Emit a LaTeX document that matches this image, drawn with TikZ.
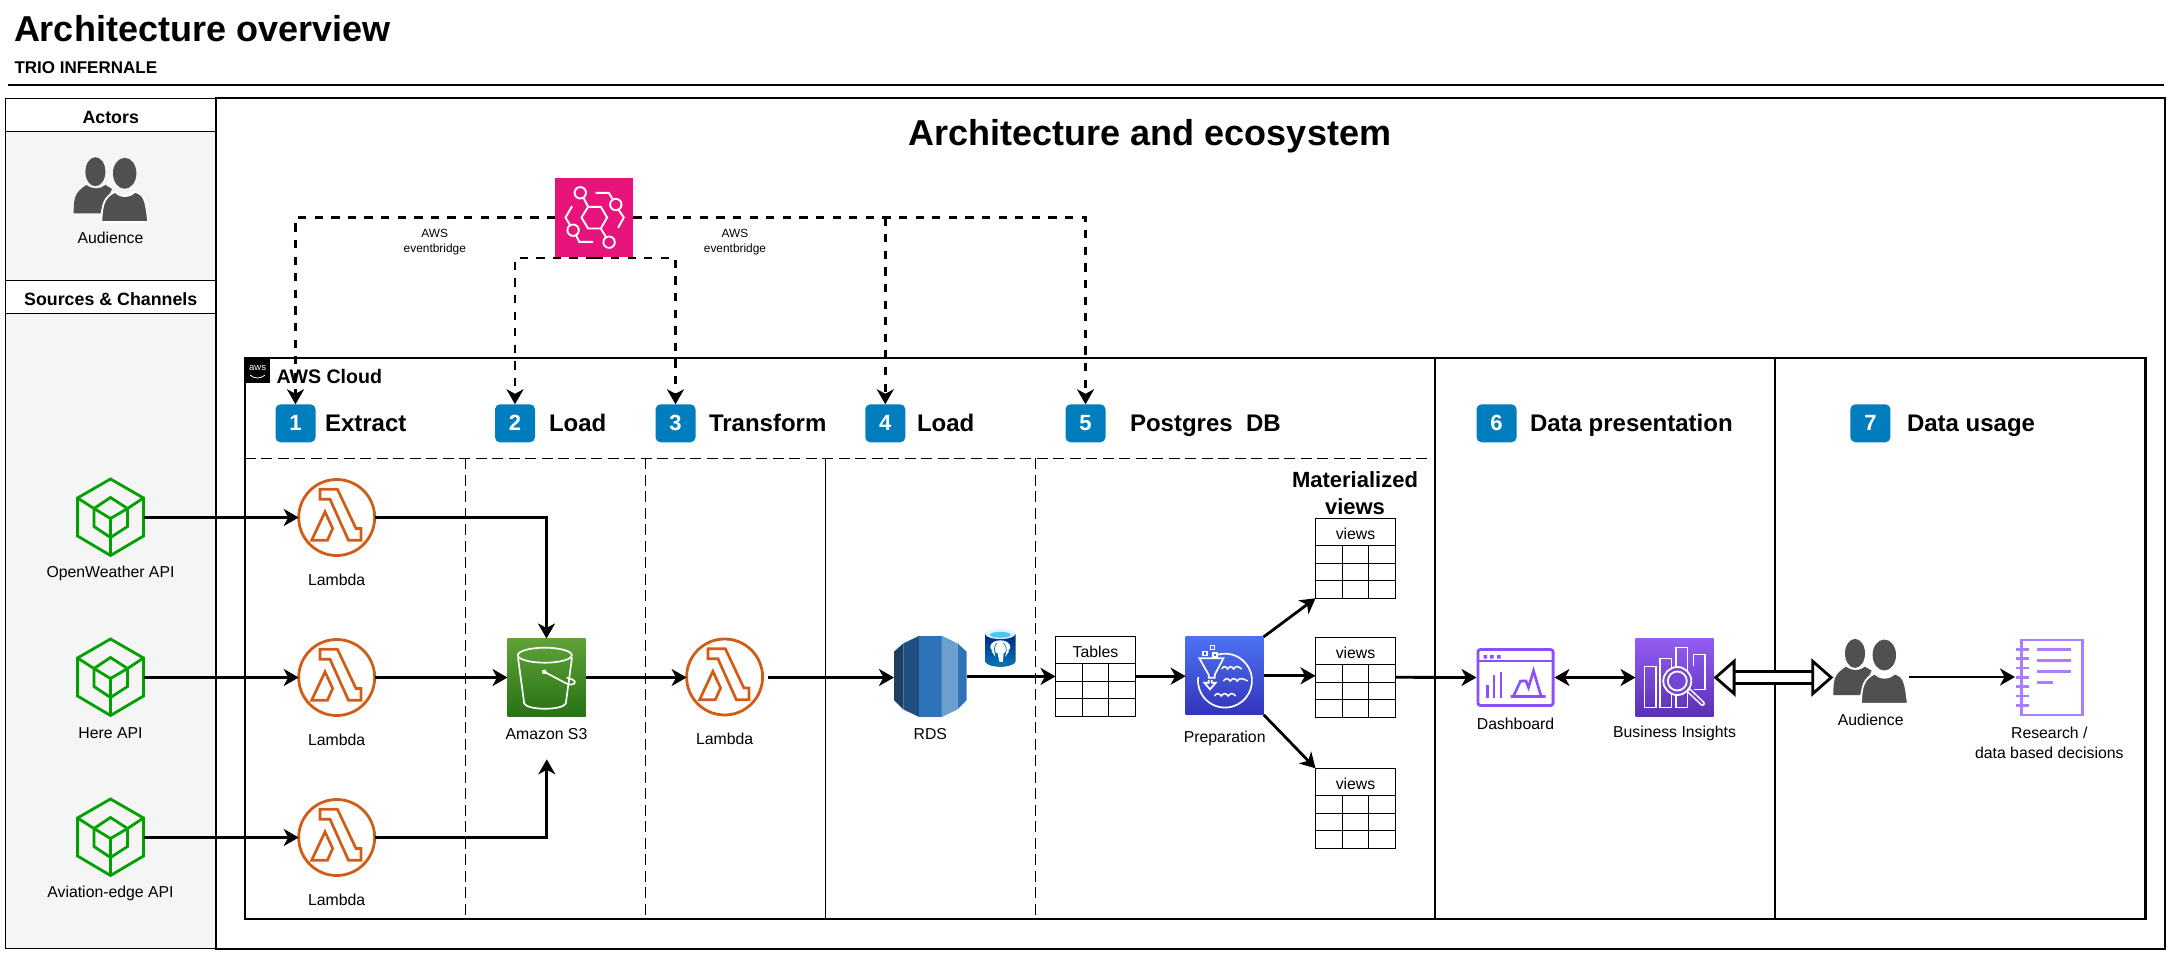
\documentclass[tikz,border=0pt]{standalone}
\usepackage{fontspec}
\setmainfont{Liberation Sans}
\usetikzlibrary{positioning, shapes.geometric, arrows.meta}
\definecolor{panelgray}{HTML}{F5F5F5}
\definecolor{stepblue}{HTML}{007DBC}
\definecolor{apigreen}{HTML}{00A000}
\definecolor{lambdaorange}{HTML}{D05C17}
\definecolor{peoplegray}{HTML}{505050}
\definecolor{ebpink}{HTML}{E7157B}
\definecolor{dashpurple}{HTML}{8C4FFF}
\definecolor{notepurple}{HTML}{AD7DFF}
\definecolor{rdsdark}{HTML}{1A3F60}
\definecolor{rdsmid}{HTML}{205081}
\definecolor{rdsblue}{HTML}{2E73B8}
\definecolor{rdslight}{HTML}{6C9ECF}
\definecolor{insighttop}{HTML}{945DF2}
\definecolor{insightlow}{HTML}{5A30B5}
\definecolor{insightmid}{HTML}{7545D4}
\definecolor{stop}{HTML}{60A337}
\definecolor{slow}{HTML}{277116}
\definecolor{preptop}{HTML}{4D72F3}
\definecolor{preplow}{HTML}{3334B9}

\begin{document}
\begin{tikzpicture}[
    x=1pt, y=-1pt,
    every node/.style={inner sep=0pt, outer sep=0pt},
    framebox/.style={rectangle, draw, line width=1.8pt},
    lanebox/.style={rectangle, draw, line width=2.2pt},
    panelhead/.style={rectangle, draw, line width=1.3pt, fill=white, minimum width=210.5pt, minimum height=33pt, font=\fontsize{17.8}{21}\selectfont\bfseries},
    caption/.style={align=center, yshift=-1pt, font=\fontsize{15.8}{19.4}\selectfont},
    smallcaption/.style={align=center, yshift=-1pt, font=\fontsize{11.9}{15.4}\selectfont},
    stepnum/.style={rectangle, rounded corners=5pt, fill=stepblue, text=white, minimum width=40pt, minimum height=38pt, font=\fontsize{22}{24}\selectfont\bfseries},
    steptext/.style={anchor=base west, font=\fontsize{24}{28}\selectfont\bfseries},
    iconbox/.style={rectangle, minimum width=78pt, minimum height=78pt},
    lambdabox/.style={ellipse, draw=lambdaorange, line width=2.8pt, minimum width=76pt, minimum height=76pt},
    gridbox/.style={rectangle, draw, line width=1.2pt, minimum width=80pt, minimum height=80pt},
    flow/.style={line width=2.8pt, -{Stealth[length=15pt, width=17pt, inset=4.5pt]}},
    twoway/.style={line width=2.8pt, {Stealth[length=15pt, width=17pt, inset=4.5pt]}-{Stealth[length=15pt, width=17pt, inset=4.5pt]}},
    bus/.style={line width=2.8pt, dash pattern=on 8.3pt off 8.3pt, -{Stealth[length=15pt, width=17pt, inset=4.5pt]}},
    lanedash/.style={line width=1.2pt, dash pattern=on 11pt off 5.5pt},
    hollow/.style={line width=2.8pt, double=white, double distance=9pt, {Triangle[open, fill=white, length=22pt, width=38pt, line width=2.8pt]}-{Triangle[open, fill=white, length=22pt, width=38pt, line width=2.8pt]}},
    people/.pic={
        \fill[peoplegray] (-15.3,-17.8) ellipse [x radius=10, y radius=14.5];
        \fill[peoplegray] (-37,23.8) .. controls (-37,8) and (-36,3) .. (-24.3,-4.5) .. controls (-18,0) and (-11,0) .. (-5.3,-4.5) -- (1.3,-0.5) -- (-10.3,23.8) -- cycle;
        \fill[peoplegray] (14,-16.2) ellipse [x radius=11.7, y radius=15.5];
        \filldraw[peoplegray, draw=white, line width=1.8pt] (-9.3,32.6) .. controls (-9,14) and (-6,7) .. (4.7,2.2) .. controls (9,8) and (19,8) .. (24,2.2) .. controls (33,5) and (35,8) .. (37.5,32.6) -- cycle;
    },
    hexapi/.pic={
        \draw[apigreen, line width=2.8pt] (0,-38.5) -- (33,-19.5) -- (33,18.5) -- (0,38) -- (-33,18.5) -- (-33,-19.5) -- cycle;
        \draw[apigreen, line width=2.8pt] (0,-20) -- (17,-9) -- (17,9) -- (0,20) -- (-16.5,9) -- (-16.5,-9) -- cycle;
        \draw[apigreen, line width=2.8pt] (-16.5,-9) -- (0,1) -- (17,-9) (0,1) -- (0,38) (-33,-19.5) -- (-16.5,-9) (33,-19.5) -- (17,-9);
    },
    lambdaglyph/.pic={
        \draw[lambdaorange, line width=2.7pt] (-16.7,-28.3) -- (0.7,-28.3) -- (19.3,11) -- (24.3,11) -- (24.3,22.7) -- (11.7,22.7) -- (-6.7,-18.3) -- (-16.7,-18.3) -- cycle;
        \draw[lambdaorange, line width=2.7pt] (-25,22.7) -- (-11.7,-5.7) -- (-4,11) -- (-9.3,22.7) -- cycle;
    },
    bucket/.pic={
        \draw[white, line width=1.7pt] (-1.7,-22.3) ellipse [x radius=27, y radius=7.5];
        \draw[white, line width=1.7pt] (-28.5,-20) -- (-22.3,26) .. controls (-19,33) and (16,33) .. (19.3,26) -- (25.5,-20);
        \fill[white] (-2.3,-5.7) circle [radius=2.3];
        \draw[white, line width=1.7pt] (-2.3,-5.7) -- (20,6) .. controls (28,9.5) and (31,4) .. (26,2) .. controls (24,1) and (22,1) .. (20,0);
    },
    rdsglyph/.pic={
        \fill[rdsdark] (-36.3,-24.7) -- (-27,-33) -- (-27,33) -- (-36.3,23.7) -- cycle;
        \fill[rdsmid] (-27,-33) -- (-11,-40.7) -- (-11,40.7) -- (-27,33) -- cycle;
        \fill[rdsblue] (-11,-40.7) -- (11.3,-40.7) -- (11.3,40.7) -- (-11,40.7) -- cycle;
        \fill[rdslight] (11.3,-40.7) -- (27.3,-33) -- (27.3,33) -- (11.3,40.7) -- cycle;
        \fill[rdsblue] (27.3,-33) -- (36.3,-24.7) -- (36.3,23.7) -- (27.3,33) -- cycle;
    },
    pgcan/.pic={
        \fill[top color=blue!40!black!70!stepblue, bottom color=stepblue] (-15,-13.8) -- (-15,13.8) .. controls (-12,20.5) and (12,20.5) .. (15,13.8) -- (15,-13.8) -- cycle;
        \fill[cyan!12] (0,-13.8) ellipse [x radius=15, y radius=5];
        \fill[cyan!70!white] (0,-13) ellipse [x radius=10.5, y radius=3];
        \fill[white] (0,-1) ellipse [x radius=10, y radius=6.5];
        \fill[white] (-4,1) -- (4,1) -- (2.5,14) -- (-0.8,14) -- cycle;
        \fill[white] (-9,3) -- (-6,3) -- (-5,9) -- cycle;
        \fill[white] (9,3) -- (6,3) -- (5,9) -- cycle;
        \draw[stepblue, line width=0.7pt] (-3,-5) .. controls (-8,0) and (-6,6) .. (-3,7) (3,-5) .. controls (8,0) and (6,6) .. (3,7);
    },
    tablelines/.pic={
        \draw[line width=1.2pt] (-40,-13) -- (40,-13) (-40,5) -- (40,5) (-40,22) -- (40,22);
        \draw[line width=1.2pt] (-13,-13) -- (-13,40) (13,-13) -- (13,40);
    },
    funnel/.pic={
        \draw[white, line width=1.7pt] (0.3,4.8) ++(253:27) arc [start angle=253, end angle=548, radius=27];
        \draw[white, line width=1.7pt] (-25.3,-17.5) -- (-1.3,-17.5) -- (-10,-1) -- (-10,2) -- (-16,2) -- (-16,-1) -- cycle;
        \draw[white, line width=1.7pt] (-16,4) -- (-16,7) -- (-20.3,7) -- (-14.7,13.5) -- (-9,7) -- (-13,7) -- (-13,4);
        \draw[white, line width=1.3pt] (-21.7,-24.5) rectangle (-17.7,-20.5) (-14,-30.5) rectangle (-10,-26.5) (-11.7,-22.8) rectangle (-7.7,-18.8);
        \draw[white, line width=1.5pt] (-3,-6.8) .. controls (-1,-10) and (0.5,-10) .. (3,-6.8) .. controls (5,-10) and (6.5,-10) .. (9,-6.8) .. controls (11,-10) and (13,-10) .. (17,-6.8);
        \draw[white, line width=1.5pt] (-1.3,5.2) .. controls (1,2) and (3,2) .. (5.5,5.2) .. controls (8,2) and (10,2) .. (12.5,5.2) .. controls (15,2) and (17,2) .. (23,5.2);
        \draw[white, line width=1.5pt] (-10.3,20.2) .. controls (-8,17) and (-6,17) .. (-3.5,20.2) .. controls (-1,17) and (1,17) .. (3.5,20.2) .. controls (6,17) and (8,17) .. (11,20.2);
    },
    dashglyph/.pic={
        \draw[dashpurple, line width=2.8pt, rounded corners=2.5pt] (-37.6,-28) rectangle (37.6,28);
        \draw[dashpurple, line width=2.6pt] (-37.6,-16.5) -- (37.6,-16.5);
        \fill[dashpurple] (-32,-22.3) rectangle (-28.5,-18.8) (-25.5,-22.3) rectangle (-22,-18.8) (-18.5,-22.3) rectangle (-15,-18.8);
        \draw[dashpurple, line width=2.8pt] (-28,20) -- (-28,7.5) (-21.5,20) -- (-21.5,-2.5) (-14.5,20) -- (-14.5,-5.8);
        \draw[dashpurple, line width=2.6pt] (-5,19) -- (30,19) (-2,18.5) -- (5,3.5) -- (10.5,3.5) -- (13,10) -- (18,-6.8) -- (25.5,18.5);
    },
    insightglyph/.pic={
        \draw[white, line width=1.8pt] (-30,-11) rectangle (-18.5,30) (-14.5,-19) rectangle (-3,30) (1.5,-30) rectangle (13,30);
        \draw[white, line width=1.8pt] (19,-12) -- (19,-23) -- (30.5,-23) -- (30.5,12) -- (19,12);
        \draw[white, line width=5pt, line cap=round] (13.8,12.5) -- (28,26);
        \draw[insightmid, line width=2pt, line cap=round] (14.8,13.5) -- (28,26);
        \filldraw[fill=insightmid, draw=white, line width=1.8pt] (2.8,3.5) circle [radius=14];
        \draw[white, line width=1.8pt] (2.8,3.5) circle [radius=9.5];
    },
    notebook/.pic={
        \draw[notepurple, line width=2.8pt] (-27.3,-37) rectangle (33.7,38);
        \draw[notepurple, line width=2.8pt] (-33,-27.7) -- (-19.7,-27.7) (-33,-18.3) -- (-19.7,-18.3) (-33,-9) -- (-19.7,-9) (-33,0.3) -- (-19.7,0.3) (-33,9.7) -- (-19.7,9.7) (-33,19) -- (-19.7,19) (-33,28.3) -- (-19.7,28.3);
        \draw[notepurple, line width=2.8pt] (-11.7,-27.7) -- (21.7,-27.7) (-11.7,-16.3) -- (21.7,-16.3) (-11.7,-5.3) -- (21.7,-5.3) (-11.7,5.7) -- (4.3,5.7);
    },
    ebglyph/.pic={
        \draw[white, line width=1.9pt] (-12.8,0) -- (-6.2,-10.7) -- (6.5,-10.7) -- (12.8,0) -- (6.5,11) -- (-6.2,11) -- cycle;
        \draw[white, line width=1.9pt] (-14,-24.7) circle [radius=5.7] (21.5,-13) circle [radius=5.7] (-21.2,12.7) circle [radius=5.7] (14.8,24.7) circle [radius=5.7];
        \draw[white, line width=1.9pt] (-11,-20) -- (-6.2,-10.7) (6.5,11) -- (12,20);
        \draw[white, line width=1.9pt] (1.2,-24.7) -- (14.5,-24.7) -- (18.5,-18) (24,-8) -- (29.5,0) -- (23.8,10.3);
        \draw[white, line width=1.9pt] (-22.2,-11.3) -- (-28.8,0) -- (-24,8) (-18.5,17.5) -- (-15,24.3) -- (-1.2,24.3);
    }
]
\useasboundingbox (0,0) rectangle (2172,955);

% Page heading
\node[anchor=base west, font=\fontsize{36}{40}\selectfont\bfseries] (pagetitle) at (14,42) {Architecture overview};
\node[anchor=base west, font=\fontsize{17}{20}\selectfont\bfseries] (pagesub) at (14.5,74) {TRIO INFERNALE};
\draw[line width=2.2pt] (7.5,85) -- (2164,85);

% Actors and sources panel
\node[framebox, line width=1.3pt, fill=panelgray, minimum width=210.5pt, minimum height=850.4pt] (panel) at (110.75,523.5) {};
\node[framebox, minimum width=1949pt, minimum height=850.4pt] (main) at (1190.5,523.5) {};
\node[panelhead] (actors) at (110.75,114.8) {\raisebox{-8.5pt}[0pt][0pt]{Actors}};
\node[panelhead] (sources) at (110.75,297) {\raisebox{-8.7pt}[0pt][0pt]{Sources \& Channels}};
\pic at (110.7,189.5) {people};
\node[caption] (audience1) at (110.5,237) {Audience};

\node[anchor=base, font=\fontsize{36}{40}\selectfont\bfseries] (maintitle) at (1150,146) {Architecture and ecosystem};

% AWS cloud and the two outer lanes
\node[lanebox, minimum width=1190.6pt, minimum height=560.4pt] (cloud) at (840,638.5) {};
\node[lanebox, minimum width=339.7pt, minimum height=560.4pt] (lane6) at (1605.15,638.5) {};
\node[lanebox, minimum width=370.4pt, minimum height=560.4pt] (lane7) at (1960.2,638.5) {};
\node[rectangle, fill=black, minimum width=25.5pt, minimum height=25pt] (awstag) at (257.6,370.8) {};
\node[text=white, font=\fontsize{9.5}{10}\selectfont] (awsword) at (257.6,367.5) {aws};
\draw[white, line width=0.8pt] (250,375) .. controls (254,379) and (261,379) .. (265,375);
\node[anchor=west, font=\fontsize{19.6}{23}\selectfont\bfseries] (cloudname) at (276.5,376.7) {AWS Cloud};

% Lane dividers
\draw[lanedash] (cloud.west |- 0,458.3) -- (1430,458.3);
\draw[lanedash] (465.6,458.3) -- (465.6,918);
\draw[lanedash] (645.5,458.3) -- (645.5,918);
\draw[line width=1.2pt] (825.6,458.3) -- (825.6,918);
\draw[lanedash] (1035.4,458.3) -- (1035.4,915);

% Step headings
\node[stepnum] (num1) at (295.5,423.3) {1};
\node[stepnum] (num2) at (515,423.3) {2};
\node[stepnum] (num3) at (675.5,423.3) {3};
\node[stepnum] (num4) at (885.3,423.3) {4};
\node[stepnum] (num5) at (1085.5,423.3) {5};
\node[stepnum] (num6) at (1496.5,423.3) {6};
\node[stepnum] (num7) at (1870.4,423.3) {7};
\node[steptext] (extract) at (325,431) {Extract};
\node[steptext] (load1) at (549,431) {Load};
\node[steptext] (transform) at (709,431) {Transform};
\node[steptext] (load2) at (917,431) {Load};
\node[steptext] (postgres) at (1130,431) {Postgres\hspace{0.28em} DB};
\node[steptext] (presentation) at (1530,431) {Data presentation};
\node[steptext] (usage) at (1907,431) {Data usage};

% API sources
\node[rectangle, minimum width=66pt, minimum height=77pt] (api1) at (110.5,517.5) {};
\node[rectangle, minimum width=66pt, minimum height=77pt] (api2) at (110.5,677.5) {};
\node[rectangle, minimum width=66pt, minimum height=77pt] (api3) at (110.5,837.5) {};
\pic at (api1) {hexapi};
\pic at (api2) {hexapi};
\pic at (api3) {hexapi};
\node[caption] (apitext1) at (110.5,572.3) {OpenWeather API};
\node[caption] (apitext2) at (110.5,732.3) {Here API};
\node[caption] (apitext3) at (110.5,892.3) {Aviation-edge API};

% Lambdas
\node[lambdabox] (lam1) at (336.7,517.5) {};
\node[lambdabox] (lam2) at (336.7,677.5) {};
\node[lambdabox] (lam3) at (336.7,837.5) {};
\node[lambdabox] (lam4) at (724.6,677) {};
\pic at (lam1) {lambdaglyph};
\pic at (lam2) {lambdaglyph};
\pic at (lam3) {lambdaglyph};
\pic at (lam4) {lambdaglyph};
\node[caption] (lamtext1) at (336.7,579.3) {Lambda};
\node[caption] (lamtext2) at (336.7,739.3) {Lambda};
\node[caption] (lamtext3) at (336.7,899.3) {Lambda};
\node[caption] (lamtext4) at (724.6,738.3) {Lambda};

% S3 and RDS
\node[iconbox, top color=stop, bottom color=slow] (s3) at (546.5,677.5) {};
\pic at (s3) {bucket};
\node[caption] (s3text) at (546.5,732.7) {Amazon S3};
\coordinate (s3in) at (546.8,759.3);
\node[rectangle, minimum width=72.7pt, minimum height=81.4pt] (rds) at (930.3,676.4) {};
\pic at (rds) {rdsglyph};
\node[caption] (rdstext) at (930.3,733) {RDS};
\pic at (1000.3,647.8) {pgcan};

% Tables, preparation and views
\node[gridbox] (tables) at (1095.5,676.2) {};
\pic at (tables) {tablelines};
\node[caption] (tablestext) at (1095.5,651) {Tables};
\node[iconbox, top color=preptop, bottom color=preplow] (prep) at (1224.7,675.8) {};
\pic at (prep) {funnel};
\node[caption] (preptext) at (1224.7,737.3) {Preparation};
\node[align=center, font=\fontsize{22}{27.4}\selectfont\bfseries] (matview) at (1355,493) {Materialized\\views};
\node[gridbox] (view1) at (1355.5,558.3) {};
\node[gridbox] (view2) at (1355.5,677.3) {};
\node[gridbox] (view3) at (1355.5,808.3) {};
\pic at (view1) {tablelines};
\pic at (view2) {tablelines};
\pic at (view3) {tablelines};
\node[caption] (viewtext1) at (1355.5,532.5) {views};
\node[caption] (viewtext2) at (1355.5,651.5) {views};
\node[caption] (viewtext3) at (1355.5,782.5) {views};

% Presentation and usage
\node[rectangle, minimum width=78pt, minimum height=58.4pt] (dash) at (1515.5,677.5) {};
\pic at (dash) {dashglyph};
\node[caption] (dashtext) at (1515.5,723.3) {Dashboard};
\node[iconbox, top color=insighttop, bottom color=insightlow] (insight) at (1674.5,677.5) {};
\pic at (insight) {insightglyph};
\node[caption] (insighttext) at (1674.5,732.3) {Business Insights};
\node[rectangle, minimum width=74pt, minimum height=64pt] (audience) at (1870.3,671.2) {};
\pic at (audience) {people};
\node[caption] (audiencetext) at (1870.7,719.3) {Audience};
\node[rectangle, minimum width=68pt, minimum height=78pt] (research) at (2049,677) {};
\pic at (research) {notebook};
\node[caption] (researchtext) at (2049.3,742) {Research /\\data based decisions};

% EventBridge
\node[iconbox, fill=ebpink] (eb) at (594.3,217.5) {};
\pic at (eb) {ebglyph};
\node[smallcaption] (ebtext1) at (434.8,241.3) {AWS\\eventbridge};
\node[smallcaption] (ebtext2) at (735,241.3) {AWS\\eventbridge};
\coordinate (ebbus) at (594.3,258);

% Schedule edges
\draw[bus] (eb.west) -| (num1.north);
\draw[bus] (ebbus) -| (num2.north);
\draw[bus] (ebbus) -| (num3.north);
\draw[bus] (eb.east -| num4.north) -- (num4.north);
\draw[bus] (eb.east) -| (num5.north);

% Data edges
\draw[flow] (api1.east) -- (lam1.west);
\draw[flow] (api2.east) -- (lam2.west);
\draw[flow] (api3.east) -- (lam3.west);
\draw[flow] (lam1.east) -| (s3.north);
\draw[flow] (lam2.east) -- (s3.west);
\draw[flow] (lam3.east) -| (s3in);
\draw[flow] (s3.east) -- (lam4.west |- s3.east);
\draw[flow] ([xshift=5pt]lam4.east |- s3.east) -- (rds.west |- s3.east);
\draw[flow] (rds.east) -- (tables.west |- rds.east);
\draw[flow] (tables.east) -- (prep.west |- tables.east);
\draw[flow] (prep.east) -- (view2.west |- prep.east);
\draw[flow] (prep.north east) -- (view1.south west);
\draw[flow] (prep.south east) -- (view3.north west);
\draw[flow] (view2.east) -- (dash.west);
\draw[twoway] (dash.east) -- (insight.west);
\draw[hollow] (insight.east) -- (audience.west |- insight.east);
\draw[flow] ([xshift=2pt]audience.east |- research.west) -- (research.west);

\end{tikzpicture}
\end{document}
